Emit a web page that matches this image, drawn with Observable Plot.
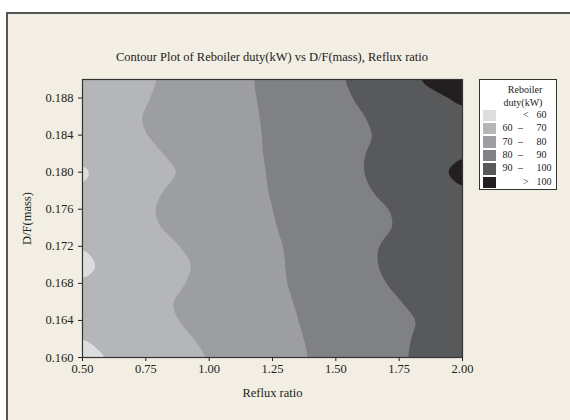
<!DOCTYPE html>
<html><head><meta charset="utf-8">
<script src="https://cdn.jsdelivr.net/npm/d3@7"></script>
<script src="https://cdn.jsdelivr.net/npm/@observablehq/plot@0.6"></script>
<style>
html,body{margin:0;padding:0;background:#fff;}
#page{position:relative;width:570px;height:420px;overflow:hidden;background:#fff;font-family:"Liberation Serif",serif;color:#222;}
#panel{position:absolute;left:6px;top:12px;width:600px;height:500px;background:#f2eee4;border-left:2px solid #555;border-top:2px solid #555;}
#chart{position:absolute;left:0;top:0;}
#title{position:absolute;left:0;width:544px;top:50px;text-align:center;font-size:12.5px;line-height:14px;white-space:nowrap;}
#legend{position:absolute;left:479px;top:79px;width:76px;height:109px;background:#fff;border:1.5px solid #333;font-size:10px;line-height:12px;}
#legend .t{position:absolute;left:0;width:90px;text-align:center;}
#legend .sw{position:absolute;left:3px;width:12.5px;height:11.5px;}
#legend .c{position:absolute;white-space:nowrap;}
</style></head>
<body><div id="page"><div id="panel"></div><div id="chart"></div>
<div id="title">Contour Plot of Reboiler duty(kW) vs D/F(mass), Reflux ratio</div>
<div id="legend"></div></div>
<script>
const refluxRatio = [0.5,0.6,0.7,0.8,0.9,1.0,1.1,1.2,1.3,1.4,1.5,1.6,1.7,1.8,1.9,2.0];
const dfMass = [0.160,0.162,0.164,0.166,0.168,0.170,0.172,0.174,0.176,0.178,0.180,0.182,0.184,0.186,0.188,0.190];
// Reboiler duty (kW), one row per D/F value (bottom to top), one column per reflux ratio
const duty160 = [57.0,60.0,62.7,65.2,67.7,70.2,72.7,75.2,77.7,80.2,82.8,85.3,87.9,90.4,92.8,95.2];
const duty162 = [59.8,62.4,64.7,66.9,69.1,71.4,73.7,76.0,78.3,80.6,83.0,85.4,87.8,90.1,92.4,94.7];
const duty164 = [62.1,64.2,66.3,68.4,70.5,72.6,74.7,76.8,78.9,81.0,83.1,85.3,87.4,89.5,91.7,93.8];
const duty166 = [62.8,64.8,66.9,69.0,71.0,73.1,75.2,77.2,79.3,81.6,83.9,86.2,88.6,90.9,93.2,95.5];
const duty168 = [60.5,63.0,65.3,67.6,69.8,72.3,74.8,77.3,79.8,82.4,85.0,87.5,90.1,92.4,94.7,97.0];
const duty170 = [57.8,61.4,64.0,66.5,69.1,71.7,74.5,77.2,80.0,82.8,85.6,88.4,90.9,93.1,95.3,97.5];
const duty172 = [60.0,62.8,65.3,67.9,70.4,72.8,75.3,77.7,80.2,82.9,85.6,88.2,90.9,92.9,95.1,97.3];
const duty174 = [63.4,65.6,67.7,69.9,72.1,74.2,76.4,78.5,80.7,82.9,85.0,87.2,89.4,91.5,93.7,95.9];
const duty176 = [64.0,66.1,68.2,70.4,72.5,74.7,76.8,78.9,81.1,83.2,85.4,87.5,89.7,91.8,93.9,96.1];
const duty178 = [60.4,64.8,67.2,69.6,72.0,74.4,76.8,79.2,81.7,84.1,86.5,88.9,91.5,94.2,96.8,99.6];
const duty180 = [58.4,62.4,64.9,67.7,70.5,73.5,76.4,79.4,82.0,84.6,87.2,89.7,92.7,95.8,99.0,102.6];
const duty182 = [61.6,64.6,67.1,69.6,72.2,74.7,77.2,79.7,82.2,84.6,87.1,89.6,92.1,94.5,97.0,99.5];
const duty184 = [64.6,66.8,68.9,71.1,73.3,75.5,77.7,79.8,82.1,84.4,86.6,88.9,91.1,93.4,95.7,97.9];
const duty186 = [65.1,67.3,69.4,71.5,73.6,75.8,77.9,80.0,82.4,84.8,87.2,89.6,92.0,94.4,96.6,99.0];
const duty188 = [63.6,66.0,68.4,70.8,73.2,75.5,77.9,80.3,83.0,85.6,88.3,90.9,93.3,95.8,98.6,101.2];
const duty190 = [62.2,64.8,67.5,70.1,72.7,75.3,77.9,80.6,83.4,86.2,89.0,92.1,95.5,99.4,103.0,106.5];
const dutyRows = [duty160,duty162,duty164,duty166,duty168,duty170,duty172,duty174,duty176,duty178,duty180,duty182,duty184,duty186,duty188,duty190];

const levels = [60,70,80,90,100];
const bandColors = ["#dcdddf","#b5b6b8","#9d9ea1","#808184","#58595b","#231f20"];
const legendLeft = ["","60","70","80","90",""];
const legendMid = ["<","–","–","–","–",">"];
const legendRight = ["60","70","80","90","100","100"];
const xTicks = [0.50,0.75,1.00,1.25,1.50,1.75,2.00];
const yTicks = [0.160,0.164,0.168,0.172,0.176,0.180,0.184,0.188];

// table of grid points built from the arrays above
const points = dfMass.flatMap((y, j) => refluxRatio.map((x, i) => ({x, y, duty: dutyRows[j][i]})));

const chart = Plot.plot({
  width:570, height:420, marginLeft:82, marginRight:108, marginTop:79, marginBottom:63,
  style:{background:"transparent", fontFamily:"Liberation Serif", fontSize:"12.5px", color:"#222"},
  x:{domain:[refluxRatio[0], refluxRatio[refluxRatio.length-1]], ticks:xTicks, tickFormat:d=>d.toFixed(2), tickSize:4, tickPadding:3, label:"Reflux ratio", labelAnchor:"center", labelOffset:39, labelArrow:"none"},
  y:{domain:[dfMass[0], dfMass[dfMass.length-1]], ticks:yTicks, tickFormat:d=>d.toFixed(3), tickSize:4, tickPadding:5, label:"D/F(mass)", labelAnchor:"center", labelOffset:60, labelArrow:"none"},
  color:{type:"ordinal", domain:levels, range:bandColors.slice(1)},
  marks:[
    Plot.frame({fill:bandColors[0]}),
    Plot.contour(points, {
      x: "x", y: "y", fill: "duty",
      interpolate: "barycentric", blur: 2,
      thresholds: levels, stroke: "none", clip: true
    }),
    Plot.frame({stroke:"#333", strokeWidth:1.2})
  ]
});
document.getElementById("chart").appendChild(chart);

const lg = document.getElementById("legend");
const add = (cls, text, css) => { const d = document.createElement("div"); d.className = cls; d.textContent = text; Object.assign(d.style, css); lg.appendChild(d); };
add("t", "Reboiler", {left:"0px", width:"90px", top:"4px"});
add("t", "duty(kW)", {left:"0px", width:"86px", top:"17px"});
bandColors.forEach((c, i) => {
  const top = 29.5 + i*13.4;
  add("sw", "", {top: top+"px", background: c});
  const tt = top + 5.75 - 6.5;
  if (legendLeft[i]) add("c", legendLeft[i], {left:"22.5px", top: tt+"px"});
  add("c", legendMid[i], {left: (i===0||i===5 ? "43px" : "38px"), top: tt+"px"});
  add("c", legendRight[i], {left:"56.5px", top: tt+"px"});
});
</script></body></html>
